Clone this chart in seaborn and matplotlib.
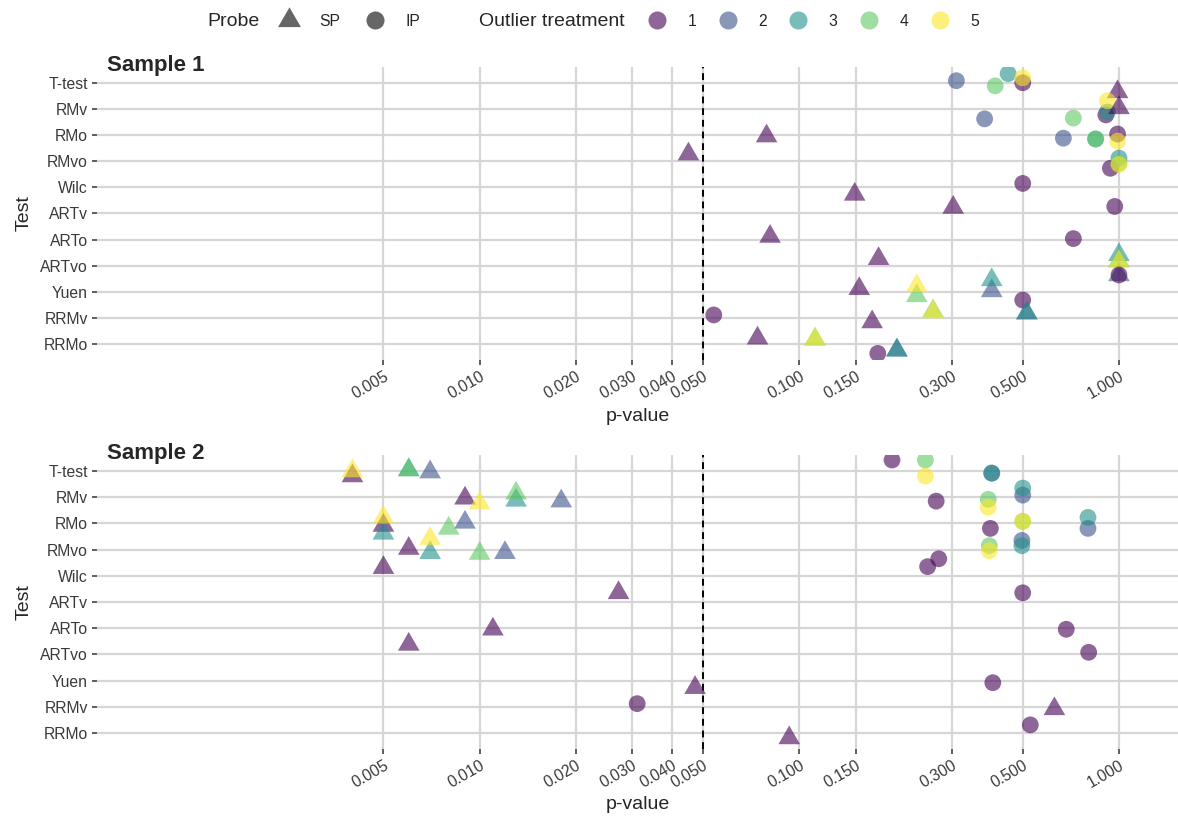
import numpy as np
import pandas as pd
import seaborn as sns
import matplotlib.pyplot as plt
from matplotlib.lines import Line2D

tests = ["T-test", "RMv", "RMo", "RMvo", "Wilc", "ARTv", "ARTo", "ARTvo", "Yuen", "RRMv", "RRMo"]
treatments = ["1", "2", "3", "4", "5"]
treat_colors = ["#440154", "#3B528B", "#21908C", "#5DC863", "#FDE725"]
p_ticks = [0.005, 0.01, 0.02, 0.03, 0.04, 0.05, 0.1, 0.15, 0.3, 0.5, 1.0]

# ---- Sample 1 (one line per test) ----
s1_test = (["T-test"] * 6 + ["RMv"] * 6 + ["RMo"] * 6 + ["RMvo"] * 5 + ["Wilc"] * 2 + ["ARTv"] * 2
           + ["ARTo"] * 2 + ["ARTvo"] * 6 + ["Yuen"] * 6 + ["RRMv"] * 6 + ["RRMo"] * 6)
s1_probe = ["IP", "IP", "IP", "IP", "IP", "SP",
            "IP", "IP", "IP", "SP", "IP", "IP",
            "SP", "IP", "IP", "IP", "IP", "IP",
            "SP", "IP", "IP", "IP", "IP",
            "IP", "SP",
            "SP", "IP",
            "SP", "IP",
            "SP", "SP", "SP", "SP", "SP", "IP",
            "SP", "SP", "SP", "SP", "SP", "IP",
            "IP", "SP", "SP", "SP", "SP", "SP",
            "SP", "IP", "SP", "SP", "SP", "SP"]
s1_treat = ["2", "3", "4", "1", "5", "1",
            "1", "3", "5", "1", "4", "2",
            "1", "2", "3", "4", "1", "5",
            "1", "1", "3", "4", "5",
            "1", "1",
            "1", "1",
            "1", "1",
            "1", "2", "3", "4", "5", "1",
            "1", "2", "3", "4", "5", "1",
            "1", "1", "2", "3", "4", "5",
            "1", "1", "2", "3", "4", "5"]
s1_p = [0.31, 0.45, 0.41, 0.50, 0.50, 0.99,
        0.91, 0.92, 0.92, 1.00, 0.72, 0.38,
        0.079, 0.67, 0.845, 0.845, 0.99, 0.99,
        0.045, 0.94, 1.00, 1.00, 1.00,
        0.50, 0.149,
        0.303, 0.97,
        0.081, 0.72,
        0.177, 1.00, 1.00, 1.00, 1.00, 1.00,
        0.154, 0.40, 0.40, 0.233, 0.233, 0.50,
        0.054, 0.169, 0.515, 0.515, 0.262, 0.262,
        0.074, 0.176, 0.202, 0.202, 0.112, 0.112]
s1_jit = [-0.08, -0.35, 0.12, 0.0, -0.19, 0.35,
          0.23, 0.12, -0.31, -0.04, 0.35, 0.38,
          0.04, 0.12, 0.15, 0.15, -0.04, 0.23,
          -0.27, 0.27, -0.12, 0.08, 0.12,
          -0.15, 0.27,
          -0.23, -0.27,
          -0.12, -0.04,
          -0.27, 0.35, -0.42, -0.19, -0.15, 0.35,
          -0.12, -0.04, -0.46, 0.15, -0.23, 0.31,
          -0.12, 0.15, -0.19, -0.19, -0.27, -0.23,
          -0.23, 0.35, 0.23, 0.23, -0.19, -0.19]

# ---- Sample 2 ----
s2_test = (["T-test"] * 10 + ["RMv"] * 10 + ["RMo"] * 10 + ["RMvo"] * 10 + ["Wilc"] * 2 + ["ARTv"] * 2
           + ["ARTo"] * 2 + ["ARTvo"] * 2 + ["Yuen"] * 2 + ["RRMv"] * 2 + ["RRMo"] * 2)
s2_probe = (["SP"] * 5 + ["IP"] * 5) * 4 + ["SP", "IP"] * 7
s2_treat = treatments * 8 + ["1"] * 14
s2_p = [0.0040, 0.0070, 0.0060, 0.0060, 0.0040, 0.195, 0.40, 0.40, 0.248, 0.248,
        0.0090, 0.0180, 0.0130, 0.0130, 0.0100, 0.268, 0.50, 0.50, 0.39, 0.39,
        0.0050, 0.0090, 0.0050, 0.0080, 0.0050, 0.396, 0.80, 0.80, 0.50, 0.50,
        0.0060, 0.0120, 0.0070, 0.0100, 0.0070, 0.273, 0.497, 0.497, 0.393, 0.393,
        0.0050, 0.252,
        0.0272, 0.50,
        0.0110, 0.684,
        0.0060, 0.804,
        0.0472, 0.403,
        0.628, 0.0311,
        0.093, 0.528]
s2_jit = [0.19, 0.04, -0.04, -0.04, 0.0, -0.42, 0.08, 0.08, -0.42, 0.19,
          0.04, 0.15, 0.12, -0.15, 0.23, 0.15, -0.08, -0.35, 0.08, 0.38,
          0.08, -0.04, 0.38, 0.19, -0.23, 0.19, 0.19, -0.23, -0.08, -0.08,
          -0.04, 0.12, 0.12, 0.15, -0.42, 0.35, -0.35, -0.15, -0.15, 0.04,
          -0.31, -0.35,
          -0.35, -0.35,
          0.04, 0.04,
          -0.38, -0.08,
          0.27, 0.08,
          0.08, -0.12,
          0.19, -0.31]

samples = {
    "Sample 1": pd.DataFrame({"test": s1_test, "probe": s1_probe, "treatment": s1_treat,
                              "p": s1_p, "jit": s1_jit}),
    "Sample 2": pd.DataFrame({"test": s2_test, "probe": s2_probe, "treatment": s2_treat,
                              "p": s2_p, "jit": s2_jit}),
}

sns.set_style("whitegrid", {"grid.color": "#d6d6d6", "axes.edgecolor": "white"})
plt.rcParams["font.family"] = ["Liberation Sans", "DejaVu Sans"]

fig = plt.figure(figsize=(11.78, 8.18), dpi=100)
axes_pos = {"Sample 1": [0.0823, 0.560, 0.9177, 0.358],
            "Sample 2": [0.0823, 0.0847, 0.9177, 0.3587]}
title_y = {"Sample 1": 1 - 71 / 818, "Sample 2": 1 - 459 / 818}
txt_col = "#3a3a3a"

for name, df in samples.items():
    ax = fig.add_axes(axes_pos[name])
    df["ypos"] = df["test"].map({t: i for i, t in enumerate(tests)}) + df["jit"]
    ax.axvline(0.05, color="black", lw=1.4, ls=(0, (3.5, 2.5)), zorder=1)
    sns.scatterplot(data=df, x="p", y="ypos", hue="treatment", hue_order=treatments,
                    palette=treat_colors, style="probe", style_order=["SP", "IP"],
                    markers={"SP": (3, 0, 0), "IP": "o"}, size="probe",
                    sizes={"SP": 324, "IP": 146}, alpha=0.6, linewidth=0,
                    legend=False, ax=ax, zorder=3)
    ax.set_xscale("log")
    ax.set_xlim(0.000635, 1.53)
    ax.set_xticks(p_ticks)
    ax.set_xticklabels([f"{t:.3f}" for t in p_ticks], rotation=30, ha="right",
                       rotation_mode="anchor")
    ax.minorticks_off()
    ax.set_ylim(len(tests) - 0.4, -0.6)
    ax.set_yticks(range(len(tests)))
    ax.set_yticklabels(tests)
    ax.grid(True, color="#d6d6d6", lw=1.6)
    ax.set_axisbelow(True)
    for s in ax.spines.values():
        s.set_visible(False)
    ax.tick_params(axis="both", bottom=True, left=True, length=3.6, width=1.1,
                   color="#333333", labelsize=11.3, labelcolor=txt_col, pad=3)
    ax.set_xlabel("p-value", fontsize=14, labelpad=4)
    ax.set_ylabel("Test", fontsize=14, labelpad=5)
    fig.text(107 / 1178, title_y[name], name, fontsize=16, fontweight="bold",
             va="baseline", ha="left")

# ---- legend at the top ----
leg_y = 1 - 21 / 818
fig.text(207 / 1178, leg_y, "Probe", fontsize=14, va="center", ha="left")
probe_handles = [Line2D([], [], marker=(3, 0, 0), ls="", markersize=19, color="black",
                        alpha=0.6, markeredgewidth=0),
                 Line2D([], [], marker="o", ls="", markersize=13, color="black",
                        alpha=0.6, markeredgewidth=0)]
fig.legend(probe_handles, ["SP", "IP"], ncol=2, frameon=False, loc="center left",
           bbox_to_anchor=(281 / 1178, leg_y), borderaxespad=0, borderpad=0,
           handlelength=1.0, handletextpad=1.45, columnspacing=1.68, fontsize=11.3)
fig.text(479 / 1178, leg_y, "Outlier treatment", fontsize=14, va="center", ha="left")
treat_handles = [Line2D([], [], marker="o", ls="", markersize=13, color=c, alpha=0.6,
                        markeredgewidth=0) for c in treat_colors]
fig.legend(treat_handles, treatments, ncol=5, frameon=False, loc="center left",
           bbox_to_anchor=(649 / 1178, leg_y), borderaxespad=0, borderpad=0,
           handlelength=1.0, handletextpad=1.45, columnspacing=1.5, fontsize=11.3)

fig.savefig("out.png", dpi=100)
